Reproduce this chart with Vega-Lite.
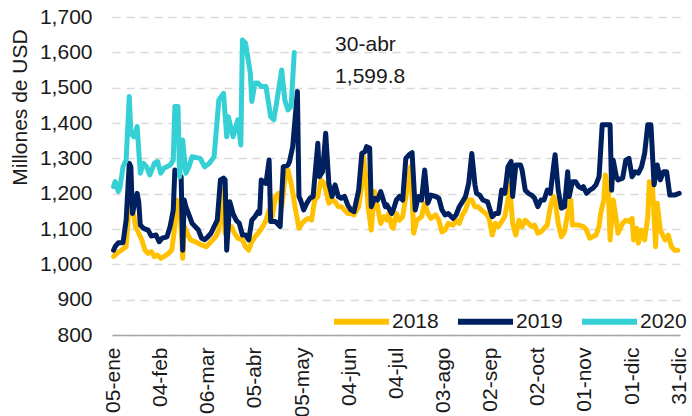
{
  "$schema": "https://vega.github.io/schema/vega-lite/v6.json",
  "width": 568,
  "height": 318,
  "autosize": {"type": "none"},
  "padding": {"left": 112, "top": 17, "right": 12, "bottom": 81},
  "background": "white",
  "config": {
    "font": "Liberation Sans",
    "view": {"stroke": null},
    "axis": {"labelFont": "Liberation Sans", "titleFont": "Liberation Sans"}
  },
  "datasets": {
    "lines": [
      {"s":"2018","d":5,"v":1022},{"s":"2018","d":7,"v":1031},{"s":"2018","d":10,"v":1040},{"s":"2018","d":13,"v":1050},{"s":"2018","d":15,"v":1173},{"s":"2018","d":17,"v":1163},{"s":"2018","d":19,"v":1107},{"s":"2018","d":21,"v":1088},{"s":"2018","d":23,"v":1069},{"s":"2018","d":25,"v":1040},{"s":"2018","d":27,"v":1031},{"s":"2018","d":29,"v":1036},{"s":"2018","d":31,"v":1022},{"s":"2018","d":33,"v":1026},{"s":"2018","d":35,"v":1017},{"s":"2018","d":37,"v":1022},{"s":"2018","d":40,"v":1031},{"s":"2018","d":42,"v":1040},{"s":"2018","d":44,"v":1107},{"s":"2018","d":45,"v":1182},{"s":"2018","d":47,"v":1173},{"s":"2018","d":49,"v":1017},{"s":"2018","d":50,"v":1107},{"s":"2018","d":52,"v":1088},{"s":"2018","d":54,"v":1069},{"s":"2018","d":57,"v":1064},{"s":"2018","d":61,"v":1055},{"s":"2018","d":64,"v":1050},{"s":"2018","d":67,"v":1064},{"s":"2018","d":70,"v":1078},{"s":"2018","d":72,"v":1097},{"s":"2018","d":74,"v":1210},{"s":"2018","d":76,"v":1088},{"s":"2018","d":80,"v":1107},{"s":"2018","d":82,"v":1088},{"s":"2018","d":84,"v":1074},{"s":"2018","d":87,"v":1069},{"s":"2018","d":89,"v":1050},{"s":"2018","d":91,"v":1040},{"s":"2018","d":93,"v":1064},{"s":"2018","d":95,"v":1078},{"s":"2018","d":97,"v":1088},{"s":"2018","d":100,"v":1107},{"s":"2018","d":102,"v":1125},{"s":"2018","d":104,"v":1154},{"s":"2018","d":106,"v":1135},{"s":"2018","d":108,"v":1192},{"s":"2018","d":110,"v":1201},{"s":"2018","d":112,"v":1163},{"s":"2018","d":114,"v":1239},{"s":"2018","d":116,"v":1267},{"s":"2018","d":118,"v":1229},{"s":"2018","d":121,"v":1150},{"s":"2018","d":123,"v":1102},{"s":"2018","d":125,"v":1116},{"s":"2018","d":127,"v":1125},{"s":"2018","d":129,"v":1130},{"s":"2018","d":131,"v":1125},{"s":"2018","d":133,"v":1182},{"s":"2018","d":135,"v":1192},{"s":"2018","d":137,"v":1239},{"s":"2018","d":139,"v":1229},{"s":"2018","d":142,"v":1173},{"s":"2018","d":144,"v":1182},{"s":"2018","d":146,"v":1177},{"s":"2018","d":148,"v":1163},{"s":"2018","d":150,"v":1163},{"s":"2018","d":152,"v":1154},{"s":"2018","d":154,"v":1144},{"s":"2018","d":156,"v":1144},{"s":"2018","d":158,"v":1140},{"s":"2018","d":161,"v":1163},{"s":"2018","d":163,"v":1225},{"s":"2018","d":164,"v":1305},{"s":"2018","d":166,"v":1229},{"s":"2018","d":167,"v":1163},{"s":"2018","d":169,"v":1097},{"s":"2018","d":171,"v":1206},{"s":"2018","d":173,"v":1163},{"s":"2018","d":175,"v":1116},{"s":"2018","d":177,"v":1135},{"s":"2018","d":179,"v":1125},{"s":"2018","d":180,"v":1144},{"s":"2018","d":182,"v":1107},{"s":"2018","d":183,"v":1102},{"s":"2018","d":185,"v":1144},{"s":"2018","d":187,"v":1125},{"s":"2018","d":189,"v":1135},{"s":"2018","d":191,"v":1192},{"s":"2018","d":194,"v":1276},{"s":"2018","d":195,"v":1192},{"s":"2018","d":196,"v":1088},{"s":"2018","d":198,"v":1125},{"s":"2018","d":201,"v":1135},{"s":"2018","d":203,"v":1173},{"s":"2018","d":205,"v":1144},{"s":"2018","d":207,"v":1130},{"s":"2018","d":210,"v":1140},{"s":"2018","d":212,"v":1125},{"s":"2018","d":214,"v":1092},{"s":"2018","d":216,"v":1097},{"s":"2018","d":218,"v":1116},{"s":"2018","d":221,"v":1111},{"s":"2018","d":223,"v":1125},{"s":"2018","d":225,"v":1116},{"s":"2018","d":227,"v":1140},{"s":"2018","d":229,"v":1154},{"s":"2018","d":231,"v":1182},{"s":"2018","d":233,"v":1182},{"s":"2018","d":235,"v":1163},{"s":"2018","d":237,"v":1163},{"s":"2018","d":239,"v":1154},{"s":"2018","d":242,"v":1144},{"s":"2018","d":244,"v":1130},{"s":"2018","d":246,"v":1083},{"s":"2018","d":248,"v":1116},{"s":"2018","d":250,"v":1107},{"s":"2018","d":252,"v":1121},{"s":"2018","d":254,"v":1135},{"s":"2018","d":256,"v":1182},{"s":"2018","d":257,"v":1229},{"s":"2018","d":259,"v":1116},{"s":"2018","d":261,"v":1083},{"s":"2018","d":263,"v":1125},{"s":"2018","d":265,"v":1107},{"s":"2018","d":267,"v":1125},{"s":"2018","d":269,"v":1116},{"s":"2018","d":271,"v":1107},{"s":"2018","d":273,"v":1111},{"s":"2018","d":275,"v":1088},{"s":"2018","d":277,"v":1092},{"s":"2018","d":279,"v":1102},{"s":"2018","d":281,"v":1111},{"s":"2018","d":283,"v":1163},{"s":"2018","d":285,"v":1192},{"s":"2018","d":286,"v":1182},{"s":"2018","d":288,"v":1116},{"s":"2018","d":290,"v":1078},{"s":"2018","d":292,"v":1092},{"s":"2018","d":294,"v":1144},{"s":"2018","d":296,"v":1182},{"s":"2018","d":297,"v":1111},{"s":"2018","d":299,"v":1111},{"s":"2018","d":301,"v":1111},{"s":"2018","d":304,"v":1107},{"s":"2018","d":306,"v":1097},{"s":"2018","d":308,"v":1074},{"s":"2018","d":310,"v":1078},{"s":"2018","d":312,"v":1083},{"s":"2018","d":314,"v":1107},{"s":"2018","d":315,"v":1144},{"s":"2018","d":317,"v":1182},{"s":"2018","d":318,"v":1253},{"s":"2018","d":320,"v":1201},{"s":"2018","d":321,"v":1069},{"s":"2018","d":323,"v":1182},{"s":"2018","d":325,"v":1125},{"s":"2018","d":326,"v":1088},{"s":"2018","d":329,"v":1116},{"s":"2018","d":331,"v":1125},{"s":"2018","d":333,"v":1121},{"s":"2018","d":335,"v":1130},{"s":"2018","d":336,"v":1069},{"s":"2018","d":338,"v":1102},{"s":"2018","d":339,"v":1060},{"s":"2018","d":341,"v":1097},{"s":"2018","d":343,"v":1069},{"s":"2018","d":345,"v":1135},{"s":"2018","d":346,"v":1234},{"s":"2018","d":348,"v":1220},{"s":"2018","d":350,"v":1050},{"s":"2018","d":351,"v":1173},{"s":"2018","d":353,"v":1097},{"s":"2018","d":356,"v":1069},{"s":"2018","d":358,"v":1083},{"s":"2018","d":360,"v":1050},{"s":"2018","d":362,"v":1040},{"s":"2018","d":364,"v":1040},
      {"s":"2019","d":5,"v":1040},{"s":"2019","d":6,"v":1050},{"s":"2019","d":8,"v":1061},{"s":"2019","d":11,"v":1061},{"s":"2019","d":13,"v":1125},{"s":"2019","d":15,"v":1286},{"s":"2019","d":16,"v":1276},{"s":"2019","d":17,"v":1144},{"s":"2019","d":20,"v":1201},{"s":"2019","d":21,"v":1177},{"s":"2019","d":22,"v":1111},{"s":"2019","d":24,"v":1102},{"s":"2019","d":27,"v":1097},{"s":"2019","d":29,"v":1080},{"s":"2019","d":32,"v":1083},{"s":"2019","d":34,"v":1064},{"s":"2019","d":36,"v":1074},{"s":"2019","d":39,"v":1078},{"s":"2019","d":41,"v":1107},{"s":"2019","d":43,"v":1154},{"s":"2019","d":44,"v":1267},{"s":"2019","d":45,"v":1262},{"s":"2019","d":48,"v":1248},{"s":"2019","d":49,"v":1040},{"s":"2019","d":50,"v":1182},{"s":"2019","d":51,"v":1163},{"s":"2019","d":53,"v":1140},{"s":"2019","d":55,"v":1116},{"s":"2019","d":59,"v":1097},{"s":"2019","d":61,"v":1074},{"s":"2019","d":63,"v":1070},{"s":"2019","d":65,"v":1078},{"s":"2019","d":67,"v":1088},{"s":"2019","d":69,"v":1107},{"s":"2019","d":71,"v":1125},{"s":"2019","d":73,"v":1239},{"s":"2019","d":75,"v":1244},{"s":"2019","d":76,"v":1239},{"s":"2019","d":77,"v":1040},{"s":"2019","d":79,"v":1177},{"s":"2019","d":81,"v":1144},{"s":"2019","d":83,"v":1125},{"s":"2019","d":85,"v":1116},{"s":"2019","d":87,"v":1083},{"s":"2019","d":89,"v":1083},{"s":"2019","d":91,"v":1069},{"s":"2019","d":93,"v":1125},{"s":"2019","d":95,"v":1135},{"s":"2019","d":97,"v":1149},{"s":"2019","d":98,"v":1144},{"s":"2019","d":99,"v":1239},{"s":"2019","d":102,"v":1229},{"s":"2019","d":104,"v":1295},{"s":"2019","d":105,"v":1121},{"s":"2019","d":108,"v":1121},{"s":"2019","d":111,"v":1107},{"s":"2019","d":113,"v":1276},{"s":"2019","d":116,"v":1281},{"s":"2019","d":117,"v":1291},{"s":"2019","d":119,"v":1333},{"s":"2019","d":122,"v":1489},{"s":"2019","d":123,"v":1192},{"s":"2019","d":124,"v":1182},{"s":"2019","d":126,"v":1154},{"s":"2019","d":128,"v":1173},{"s":"2019","d":130,"v":1187},{"s":"2019","d":132,"v":1192},{"s":"2019","d":135,"v":1343},{"s":"2019","d":136,"v":1248},{"s":"2019","d":138,"v":1262},{"s":"2019","d":140,"v":1371},{"s":"2019","d":142,"v":1229},{"s":"2019","d":144,"v":1192},{"s":"2019","d":146,"v":1225},{"s":"2019","d":148,"v":1192},{"s":"2019","d":150,"v":1187},{"s":"2019","d":152,"v":1192},{"s":"2019","d":154,"v":1168},{"s":"2019","d":156,"v":1154},{"s":"2019","d":158,"v":1149},{"s":"2019","d":161,"v":1210},{"s":"2019","d":163,"v":1314},{"s":"2019","d":165,"v":1319},{"s":"2019","d":166,"v":1333},{"s":"2019","d":168,"v":1329},{"s":"2019","d":169,"v":1163},{"s":"2019","d":171,"v":1187},{"s":"2019","d":173,"v":1182},{"s":"2019","d":175,"v":1206},{"s":"2019","d":176,"v":1192},{"s":"2019","d":178,"v":1163},{"s":"2019","d":179,"v":1168},{"s":"2019","d":182,"v":1144},{"s":"2019","d":183,"v":1154},{"s":"2019","d":185,"v":1182},{"s":"2019","d":187,"v":1192},{"s":"2019","d":189,"v":1182},{"s":"2019","d":191,"v":1300},{"s":"2019","d":193,"v":1310},{"s":"2019","d":195,"v":1316},{"s":"2019","d":197,"v":1154},{"s":"2019","d":199,"v":1192},{"s":"2019","d":201,"v":1182},{"s":"2019","d":203,"v":1267},{"s":"2019","d":205,"v":1173},{"s":"2019","d":207,"v":1196},{"s":"2019","d":210,"v":1192},{"s":"2019","d":212,"v":1187},{"s":"2019","d":214,"v":1154},{"s":"2019","d":216,"v":1140},{"s":"2019","d":218,"v":1144},{"s":"2019","d":221,"v":1130},{"s":"2019","d":223,"v":1140},{"s":"2019","d":225,"v":1163},{"s":"2019","d":227,"v":1177},{"s":"2019","d":229,"v":1192},{"s":"2019","d":231,"v":1229},{"s":"2019","d":233,"v":1314},{"s":"2019","d":235,"v":1225},{"s":"2019","d":236,"v":1201},{"s":"2019","d":238,"v":1196},{"s":"2019","d":240,"v":1182},{"s":"2019","d":243,"v":1177},{"s":"2019","d":244,"v":1163},{"s":"2019","d":246,"v":1135},{"s":"2019","d":248,"v":1144},{"s":"2019","d":250,"v":1144},{"s":"2019","d":252,"v":1210},{"s":"2019","d":254,"v":1201},{"s":"2019","d":256,"v":1276},{"s":"2019","d":258,"v":1291},{"s":"2019","d":259,"v":1192},{"s":"2019","d":261,"v":1281},{"s":"2019","d":264,"v":1281},{"s":"2019","d":265,"v":1267},{"s":"2019","d":267,"v":1210},{"s":"2019","d":269,"v":1201},{"s":"2019","d":271,"v":1196},{"s":"2019","d":273,"v":1187},{"s":"2019","d":275,"v":1163},{"s":"2019","d":277,"v":1182},{"s":"2019","d":279,"v":1182},{"s":"2019","d":281,"v":1210},{"s":"2019","d":283,"v":1201},{"s":"2019","d":285,"v":1276},{"s":"2019","d":286,"v":1310},{"s":"2019","d":288,"v":1210},{"s":"2019","d":290,"v":1159},{"s":"2019","d":292,"v":1163},{"s":"2019","d":294,"v":1262},{"s":"2019","d":295,"v":1192},{"s":"2019","d":297,"v":1234},{"s":"2019","d":299,"v":1234},{"s":"2019","d":301,"v":1220},{"s":"2019","d":303,"v":1215},{"s":"2019","d":304,"v":1220},{"s":"2019","d":306,"v":1201},{"s":"2019","d":308,"v":1210},{"s":"2019","d":310,"v":1215},{"s":"2019","d":312,"v":1225},{"s":"2019","d":314,"v":1248},{"s":"2019","d":316,"v":1395},{"s":"2019","d":318,"v":1395},{"s":"2019","d":321,"v":1395},{"s":"2019","d":322,"v":1210},{"s":"2019","d":323,"v":1295},{"s":"2019","d":325,"v":1248},{"s":"2019","d":326,"v":1239},{"s":"2019","d":329,"v":1244},{"s":"2019","d":331,"v":1295},{"s":"2019","d":333,"v":1300},{"s":"2019","d":335,"v":1248},{"s":"2019","d":337,"v":1262},{"s":"2019","d":339,"v":1258},{"s":"2019","d":341,"v":1276},{"s":"2019","d":343,"v":1314},{"s":"2019","d":345,"v":1395},{"s":"2019","d":347,"v":1395},{"s":"2019","d":349,"v":1225},{"s":"2019","d":351,"v":1281},{"s":"2019","d":353,"v":1239},{"s":"2019","d":355,"v":1262},{"s":"2019","d":357,"v":1262},{"s":"2019","d":359,"v":1196},{"s":"2019","d":362,"v":1196},{"s":"2019","d":365,"v":1201},
      {"s":"2020","d":5,"v":1220},{"s":"2020","d":6,"v":1234},{"s":"2020","d":8,"v":1206},{"s":"2020","d":9,"v":1216},{"s":"2020","d":11,"v":1276},{"s":"2020","d":13,"v":1295},{"s":"2020","d":15,"v":1475},{"s":"2020","d":16,"v":1371},{"s":"2020","d":18,"v":1361},{"s":"2020","d":20,"v":1390},{"s":"2020","d":22,"v":1258},{"s":"2020","d":24,"v":1286},{"s":"2020","d":26,"v":1276},{"s":"2020","d":28,"v":1253},{"s":"2020","d":31,"v":1286},{"s":"2020","d":33,"v":1291},{"s":"2020","d":35,"v":1258},{"s":"2020","d":37,"v":1272},{"s":"2020","d":41,"v":1281},{"s":"2020","d":43,"v":1295},{"s":"2020","d":44,"v":1447},{"s":"2020","d":46,"v":1447},{"s":"2020","d":47,"v":1248},{"s":"2020","d":49,"v":1352},{"s":"2020","d":51,"v":1258},{"s":"2020","d":53,"v":1276},{"s":"2020","d":55,"v":1305},{"s":"2020","d":60,"v":1300},{"s":"2020","d":63,"v":1276},{"s":"2020","d":66,"v":1286},{"s":"2020","d":69,"v":1305},{"s":"2020","d":72,"v":1465},{"s":"2020","d":75,"v":1484},{"s":"2020","d":77,"v":1361},{"s":"2020","d":78,"v":1418},{"s":"2020","d":81,"v":1361},{"s":"2020","d":84,"v":1409},{"s":"2020","d":86,"v":1338},{"s":"2020","d":87,"v":1635},{"s":"2020","d":89,"v":1626},{"s":"2020","d":91,"v":1570},{"s":"2020","d":92,"v":1541},{"s":"2020","d":93,"v":1461},{"s":"2020","d":95,"v":1513},{"s":"2020","d":97,"v":1513},{"s":"2020","d":99,"v":1503},{"s":"2020","d":102,"v":1503},{"s":"2020","d":105,"v":1418},{"s":"2020","d":107,"v":1409},{"s":"2020","d":109,"v":1465},{"s":"2020","d":112,"v":1550},{"s":"2020","d":114,"v":1465},{"s":"2020","d":116,"v":1437},{"s":"2020","d":118,"v":1447},{"s":"2020","d":120,"v":1599.8}
    ],
    "notes": [
      {"d": 146, "v": 1620, "label": "30-abr"},
      {"d": 146, "v": 1529, "label": "1,599.8"}
    ]
  },
  "encoding": {
    "x": {
      "field": "d", "type": "quantitative",
      "scale": {"domain": [4, 365.5], "nice": false, "zero": false},
      "axis": {
        "values": [5, 35, 65, 95, 125, 155, 185, 215, 245, 275, 305, 335, 365],
        "labelExpr": "['05-ene','04-feb','06-mar','05-abr','05-may','04-jun','04-jul','03-ago','02-sep','02-oct','01-nov','01-dic','31-dic'][round((datum.value-5)/30)]",
        "labelAngle": -90, "labelAlign": "right", "labelBaseline": "middle",
        "labelPadding": 12, "labelFontSize": 21, "labelColor": "#1a1a1a",
        "labelOverlap": false, "labelFlush": false, "labelBound": false,
        "ticks": false, "grid": false,
        "domainColor": "#A6A6A6", "domainWidth": 1.5,
        "title": null
      }
    },
    "y": {
      "field": "v", "type": "quantitative",
      "scale": {"domain": [800, 1700], "nice": false, "zero": false},
      "axis": {
        "values": [800, 900, 1000, 1100, 1200, 1300, 1400, 1500, 1600, 1700],
        "tickCount": 10,
        "format": ",d",
        "labelOverlap": false, "labelFlush": false, "labelBound": false,
        "grid": true, "gridDash": [8, 6], "gridColor": "#D9D9D9", "gridWidth": 1.5,
        "domain": false, "ticks": false,
        "labelPadding": 20, "labelFontSize": 21, "labelColor": "#1a1a1a",
        "title": "Millones de USD", "titleFontSize": 21, "titleFontWeight": "normal",
        "titleColor": "#1a1a1a",
        "titleX": -92, "titleY": 90, "titleAngle": -90,
        "titleAlign": "center", "titleBaseline": "middle"
      }
    }
  },
  "layer": [
    {
      "data": {"name": "lines"},
      "mark": {"type": "line", "strokeWidth": 5, "strokeJoin": "round", "strokeCap": "round"},
      "encoding": {
        "color": {
          "field": "s", "type": "nominal",
          "scale": {"domain": ["2018", "2019", "2020"], "range": ["#FFC000", "#002060", "#35D0D5"]},
          "legend": {
            "orient": "none", "legendX": 219, "legendY": 274,
            "direction": "horizontal", "title": null,
            "symbolType": "stroke", "symbolSize": 3025, "symbolStrokeWidth": 6,
            "labelFontSize": 21, "labelColor": "#1a1a1a", "labelOffset": 0,
            "columnPadding": 7, "padding": 0
          }
        }
      }
    },
    {
      "data": {"name": "notes"},
      "mark": {"type": "text", "align": "left", "baseline": "middle", "fontSize": 21, "color": "#1a1a1a"},
      "encoding": {
        "text": {"field": "label"}
      }
    }
  ]
}
